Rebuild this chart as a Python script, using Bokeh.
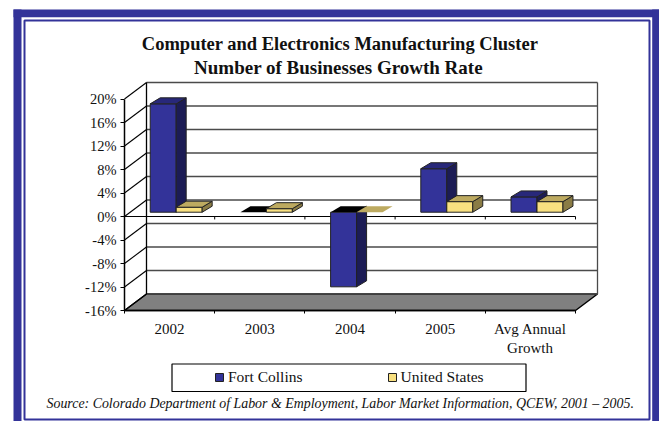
from bokeh.embed import file_html
from bokeh.resources import INLINE
from bokeh.plotting import figure
from bokeh.models import (BoxAnnotation, FixedTicker, Label, Legend, LegendItem, LinearAxis,
                          PrintfTickFormatter, Range1d)

TITLE_1 = "Computer and Electronics Manufacturing Cluster"
TITLE_2 = "Number of Businesses Growth Rate"
SOURCE = "Source: Colorado Department of Labor & Employment, Labor Market Information, QCEW, 2001 \u2013 2005."
categories = ["2002", "2003", "2004", "2005", "Avg Annual\nGrowth"]
fort_collins = [18.45, 0.0, -12.7, 7.4, 2.6]
united_states = [0.85, 0.6, 0.0, 1.8, 1.8]
y_ticks = [-16, -12, -8, -4, 0, 4, 8, 12, 16, 20]

W, H = 659, 421
NAVY = "#333399"
X0, Y0, PX_X, PX_Y = 124, 216, 90.2, 5.875
WALL_DX, WALL_DY = 22 / PX_X, 16.5 / PX_Y
BAR_DX, BAR_DY = 10 / PX_X, 6 / PX_Y
BAR_W, BAR_X0, BAR_Y0 = 0.288, 0.285, 0.73
SERIF = "Liberation Serif"

p = figure(width=W, height=H, output_backend="svg", toolbar_location=None,
           x_range=Range1d(-X0 / PX_X, (W - X0) / PX_X), y_range=Range1d((Y0 - H) / PX_Y, Y0 / PX_Y),
           x_axis_type=None, y_axis_type=None,
           min_border_left=0, min_border_right=0, min_border_top=0, min_border_bottom=0)
p.grid.visible = False
p.outline_line_color = None
p.background_fill_color = "white"
p.border_fill_color = "white"


def box(l, r, t, b, **kw):
    p.add_layout(BoxAnnotation(left=l, right=r, top=H - t, bottom=H - b, left_units="screen", right_units="screen",
                               top_units="screen", bottom_units="screen", level="underlay", **kw))


# page frame
for l, r, t, b in [(13, 21, 9, 420.7), (13, 659, 9, 16.7), (651.7, 659, 9, 421)]:
    box(l, r, t, b, fill_color=NAVY, fill_alpha=1, line_color=None)
box(24, 649, 20, 419, fill_alpha=0, line_color=NAVY, line_width=2, line_alpha=1)
box(171.5, 525.5, 363.5, 391, fill_alpha=0, line_color="black", line_width=1.2, line_alpha=1)

# walls, floor
n = len(categories)
p.patch([0, WALL_DX, n + WALL_DX, n], [-16, -16 + WALL_DY, -16 + WALL_DY, -16],
        fill_color="#808080", line_color="black", line_width=1.5)
p.segment([WALL_DX] * len(y_ticks), [t + WALL_DY for t in y_ticks],
          [n + WALL_DX] * len(y_ticks), [t + WALL_DY for t in y_ticks], line_color="#4a4a4a", line_width=1.3)
p.segment([0] * len(y_ticks), y_ticks, [WALL_DX] * len(y_ticks), [t + WALL_DY for t in y_ticks],
          line_color="black", line_width=1.1)
p.segment([WALL_DX, n + WALL_DX], [-16 + WALL_DY] * 2, [WALL_DX, n + WALL_DX], [20 + WALL_DY] * 2,
          line_color=["black", "#4a4a4a"], line_width=1.3)
# zero axis
p.segment([0], [0], [n], [0], line_color="black", line_width=1.2)
p.segment(list(range(1, n + 1)), [0] * n, list(range(1, n + 1)), [-0.5] * n, line_color="black", line_width=1)


def draw(values, offset, front, side, top, zero_top):
    x0 = [i + BAR_X0 + offset for i in range(n)]
    x1 = [x + BAR_W for x in x0]
    nz = [i for i, v in enumerate(values) if v != 0]
    r = p.quad(left=[x0[i] for i in nz], right=[x1[i] for i in nz],
               bottom=[BAR_Y0 + min(values[i], 0) for i in nz], top=[BAR_Y0 + max(values[i], 0) for i in nz],
               fill_color=front, line_color="#222222", line_width=1)
    p.patches([[x1[i], x1[i] + BAR_DX, x1[i] + BAR_DX, x1[i]] for i in nz],
              [[BAR_Y0 + min(values[i], 0), BAR_Y0 + min(values[i], 0) + BAR_DY,
                BAR_Y0 + max(values[i], 0) + BAR_DY, BAR_Y0 + max(values[i], 0)] for i in nz],
              fill_color=side, line_color="#222222", line_width=1)
    tops = [BAR_Y0 + max(v, 0) for v in values]
    p.patches([[x0[i], x0[i] + BAR_DX, x1[i] + BAR_DX, x1[i]] for i in range(n)],
              [[tops[i], tops[i] + BAR_DY, tops[i] + BAR_DY, tops[i]] for i in range(n)],
              fill_color=[top if v > 0 else zero_top for v in values],
              line_color=["#222222" if v > 0 else None for v in values], line_width=1)
    return r


r_fc = draw(fort_collins, 0, NAVY, "#1c1c55", "#28287a", "black")
r_us = draw(united_states, BAR_W, "#f8e080", "#8a7c45", "#bdaa60", "#bdaa60")

# axes
ya = LinearAxis(fixed_location=0, ticker=FixedTicker(ticks=y_ticks), formatter=PrintfTickFormatter(format="%d%%"),
                bounds=(-16, 20), major_tick_in=0, major_tick_out=4, minor_tick_line_color=None,
                major_label_text_font=SERIF, major_label_text_font_size="14.5px", major_label_standoff=4,
                axis_line_width=1.5, major_label_text_color="#111111")
p.add_layout(ya, "left")
xa = LinearAxis(fixed_location=-16, ticker=FixedTicker(ticks=[i + 0.5 for i in range(n)], minor_ticks=list(range(n + 1))),
                bounds=(0, n), major_tick_line_color=None, minor_tick_in=0, minor_tick_out=3,
                major_label_overrides={i + 0.5: c.split("\n")[0] for i, c in enumerate(categories)},
                major_label_text_font=SERIF, major_label_text_font_size="15px", major_label_standoff=4,
                axis_line_width=1.5, major_label_text_color="#111111")
p.add_layout(xa, "below")


def text(x, y, s, size, style="normal", align="center"):
    p.add_layout(Label(x=x, y=H - y, x_units="screen", y_units="screen", text=s, text_font=SERIF, text_font_size=size,
                       text_font_style=style, text_align=align, text_baseline="middle", text_color="#111111"))


text(339.5, 43, TITLE_1, "18.5px", "bold")
text(338, 67, TITLE_2, "19px", "bold")
text(529.5, 347.5, categories[-1].split("\n")[1], "15px")
text(46, 402.5, SOURCE, "13.9px", "italic", "left")

# legend
leg = Legend(items=[LegendItem(label="Fort Collins", renderers=[r_fc]), LegendItem(label="United States", renderers=[r_us])],
             orientation="horizontal", location=(214, 35), padding=0, margin=0, spacing=84, glyph_width=10,
             glyph_height=10, label_standoff=4, border_line_color=None, background_fill_alpha=0,
             label_text_font=SERIF, label_text_font_size="15.5px", label_text_color="#111111")
p.add_layout(leg)

open("out.html", "w").write(file_html(p, INLINE))
